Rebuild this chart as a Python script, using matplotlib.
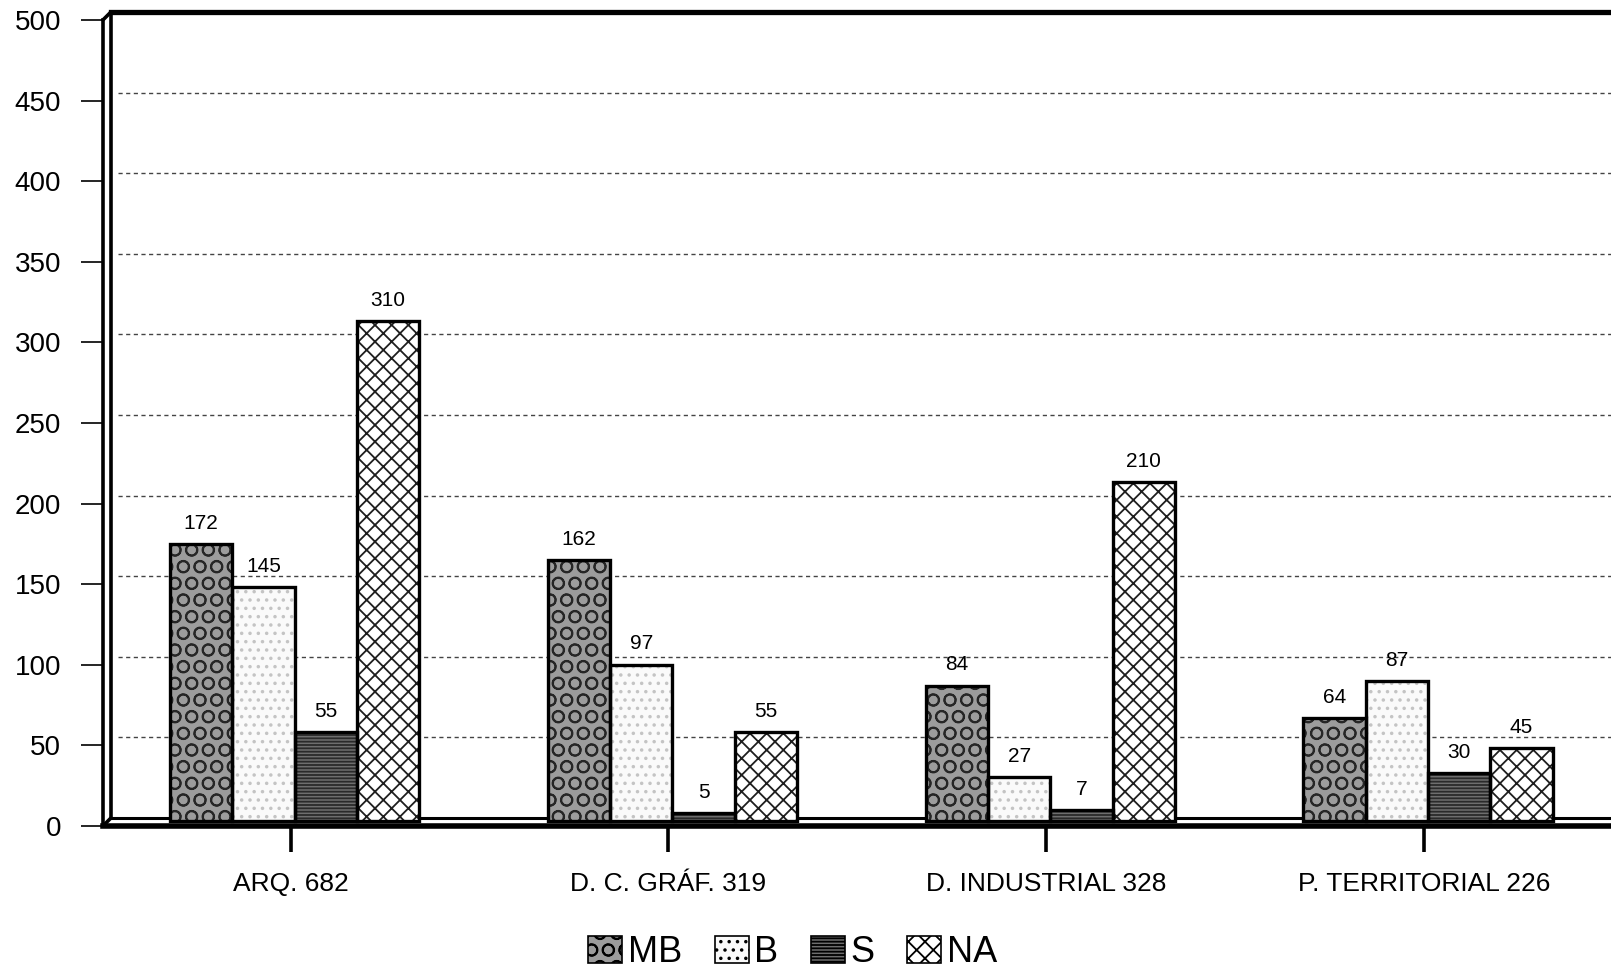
import matplotlib
matplotlib.use("Agg")
import matplotlib.pyplot as plt
import matplotlib.transforms as mtransforms
import numpy as np
from matplotlib.patches import Patch

plt.rcParams['font.family'] = ['Liberation Sans', 'DejaVu Sans']
plt.rcParams['hatch.linewidth'] = 1.3

# Datos
categorias = ['ARQ. 682', 'D. C. GRÁF. 319', 'D. INDUSTRIAL 328', 'P. TERRITORIAL 226']
series = ['MB', 'B', 'S', 'NA']
mb = [172, 162, 84, 64]
b = [145, 97, 27, 87]
s = [55, 5, 7, 30]
na = [310, 55, 210, 45]
y_ticks = [0, 50, 100, 150, 200, 250, 300, 350, 400, 450, 500]

# Estilos de cada serie: (relleno, hatch, color del hatch)
estilos = {
    'MB': ('#9c9c9c', 'O', '#262626'),
    'B': ('#fafafa', '..', '#c4c4c4'),
    'S': ('#6e6e6e', '-----', '#2a2a2a'),
    'NA': ('#ffffff', 'xx', '#1e1e1e'),
}

fig = plt.figure(figsize=(16.11, 9.69), dpi=100)
ax = fig.add_axes([0.0639, 0.1476, 0.9361, 0.8318])

x0, x1 = -0.497, 3.495
ax.set_xlim(x0, x1)
ax.set_ylim(0, 500)

# pared del fondo desplazada (efecto 3D)
fondo = mtransforms.offset_copy(ax.transData, fig=fig, x=8, y=8, units='dots')
barras_tr = mtransforms.offset_copy(ax.transData, fig=fig, x=4, y=5, units='dots')

x = np.arange(len(categorias))
w = 0.165
valores = [mb, b, s, na]

for i, (nombre, vals) in enumerate(zip(series, valores)):
    pos = x + (i - 1.5) * w
    face, hatch, hcol = estilos[nombre]
    relleno = ax.bar(pos, vals, w, color=face, hatch=hatch, edgecolor=hcol, linewidth=0, zorder=3)
    borde = ax.bar(pos, vals, w, fill=False, edgecolor='black', linewidth=2.4, zorder=4)
    for p in list(relleno) + list(borde):
        p.set_transform(barras_tr)
    for xi, v in zip(pos, vals):
        ax.annotate(str(v), (xi, v), xycoords=barras_tr, xytext=(0, 8), textcoords='offset points',
                    ha='center', va='bottom', fontsize=15, zorder=6)

ax.set_yticks(y_ticks)
ax.set_yticklabels([str(t) for t in y_ticks], fontsize=20)
ax.set_xticks(x)
ax.set_xticklabels(categorias, fontsize=19)
ax.tick_params(axis='y', direction='out', length=16, width=1.2, pad=14)
ax.tick_params(axis='x', direction='out', length=19, width=2.6, pad=14)

for lado in ax.spines:
    ax.spines[lado].set_visible(False)

# Rejilla punteada en la pared del fondo
for t in y_ticks[1:-1]:
    ax.plot([x0 + 0.02, x1 + 0.1], [t, t], transform=fondo, color='#444444',
            linestyle=(0, (3, 2.5)), linewidth=1.0, zorder=1, clip_on=False)

# Marco con efecto 3D
ax.plot([x0, x0], [0, 500], color='black', linewidth=2.6, clip_on=False, zorder=5)
ax.plot([x0, x0], [0, 500], transform=fondo, color='black', linewidth=2.6, clip_on=False, zorder=5)
ax.plot([x0, x1 + 0.1], [500, 500], transform=fondo, color='black', linewidth=3.8, clip_on=False, zorder=5)
ax.plot([x0, x1 + 0.1], [0, 0], transform=fondo, color='black', linewidth=2.2, clip_on=False, zorder=2)
ax.plot([x0, x1 + 0.1], [0, 0], color='black', linewidth=4.0, clip_on=False, zorder=5)
ax.annotate('', xy=(x0, 500), xycoords=fondo, xytext=(x0, 500), textcoords='data',
            arrowprops=dict(arrowstyle='-', color='black', lw=2.6, shrinkA=0, shrinkB=0))
ax.annotate('', xy=(x0, 0), xycoords=fondo, xytext=(x0, 0), textcoords='data',
            arrowprops=dict(arrowstyle='-', color='black', lw=2.6, shrinkA=0, shrinkB=0))

# Leyenda
handles = []
for nombre in series:
    face, hatch, hcol = estilos[nombre]
    handles.append(Patch(facecolor=face, hatch=hatch, edgecolor='black', linewidth=1.2, label=nombre))
fig.legend(handles=handles, loc='center', bbox_to_anchor=(0.492, 0.017), ncol=4, frameon=False,
           fontsize=26, handlelength=0.95, handleheight=0.75, handletextpad=0.15, columnspacing=0.9,
           borderpad=0)

plt.savefig('out.png', dpi=100, facecolor='white')
plt.close()
